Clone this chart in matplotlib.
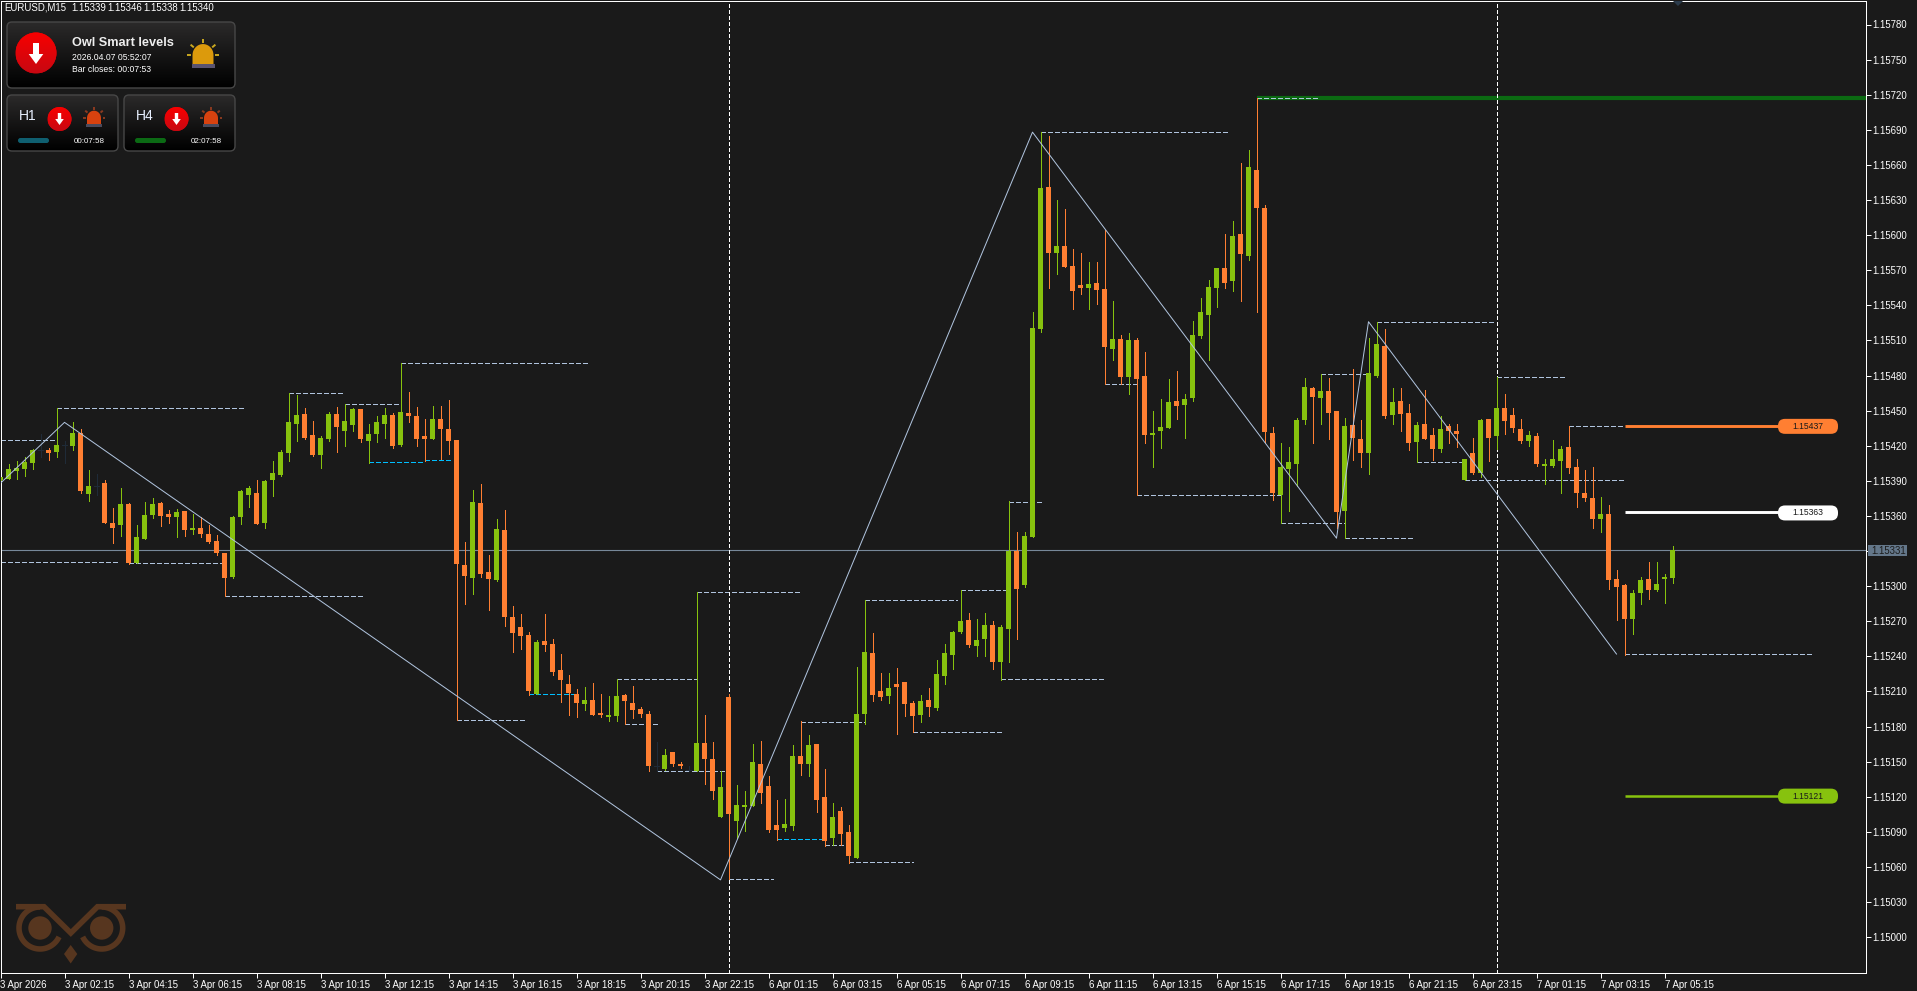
import numpy as np
import matplotlib
matplotlib.use("Agg")
import matplotlib.pyplot as plt
from matplotlib.patches import FancyBboxPatch, Circle, Polygon, Rectangle

plt.rcParams['font.family'] = ['Liberation Sans', 'DejaVu Sans']

# prices are in points above 1.15000
opens = [391,392,398,400,405,416,416,415,421,420,
         431,379,386,388,354,352,370,320,340,361,
         371,362,359,364,348,350,345,339,328,308,
         359,378,380,354,391,395,414,439,447,429,
         412,426,447,433,438,451,424,430,439,446,
         421,448,445,428,426,443,434,425,318,307,
         371,312,305,348,274,265,258,208,253,251,
         228,216,208,199,203,192,188,189,207,200,
         195,191,146,144,158,148,143,142,166,152,
         103,205,99,111,112,148,129,96,93,95,
         155,148,165,120,85,108,90,68,191,243,
         210,206,216,218,200,190,203,196,223,241,
         261,271,249,255,267,235,263,330,301,342,
         520,641,585,591,574,557,555,559,554,503,
         511,479,510,480,429,433,435,458,455,461,
         514,532,555,572,561,601,582,656,623,431,
         378,400,404,442,469,461,467,450,364,438,
         426,414,480,505,446,458,448,423,439,429,
         417,437,433,391,414,397,443,428,452,446,
         434,424,428,403,403,407,419,402,380,375,
         357,362,306,301,272,294,306,297,306,307]
highs = [393,404,407,410,417,430,418,452,424,440,
         434,399,396,391,367,384,371,352,372,375,
         372,365,366,364,362,359,352,344,328,360,
         382,386,391,391,407,416,465,463,452,441,
         428,449,453,456,452,451,439,445,452,448,
         491,466,453,443,454,454,459,425,338,382,
         387,327,357,365,283,276,261,254,276,255,
         242,224,212,214,217,208,206,221,208,215,
         197,193,167,161,158,150,146,295,190,167,
         142,208,130,125,165,168,138,117,118,164,
         185,173,165,144,115,111,96,231,288,260,
         226,226,230,218,202,207,213,237,251,262,
         297,277,272,277,270,267,373,346,346,534,
         688,685,630,622,588,585,577,577,604,544,
         515,516,512,500,450,460,477,484,464,527,
         546,562,572,601,612,662,673,717,626,436,
         422,419,444,478,470,481,478,450,444,486,
         442,512,526,520,469,469,456,440,468,435,
         445,439,439,409,427,443,443,479,464,452,
         443,433,431,409,425,420,437,409,399,402,
         376,369,314,302,297,308,321,321,310,334]
lows = [391,392,392,394,400,410,408,410,405,416,
        380,373,378,354,337,343,319,320,340,358,
        351,354,342,343,345,342,337,327,292,307,
        353,368,353,350,377,394,407,424,426,411,
        401,424,415,420,433,423,405,423,427,418,
        420,440,420,407,426,409,413,186,285,293,
        308,280,304,266,244,246,207,208,245,224,
        201,190,188,194,190,188,185,185,182,187,
        188,142,142,143,146,145,142,142,131,118,
        103,50,85,91,112,115,90,83,91,92,
        139,138,107,78,79,79,63,68,182,202,
        203,200,174,189,175,184,189,194,216,229,
        260,248,240,240,229,220,235,255,299,342,
        517,555,567,573,537,550,537,541,473,493,
        473,464,378,422,402,418,435,443,427,458,
        512,493,539,555,552,544,579,534,423,374,
        354,364,386,439,422,439,426,350,341,408,
        402,396,479,444,439,433,416,406,426,408,
        415,422,419,391,396,393,407,417,430,432,
        422,420,403,387,402,380,397,368,373,350,
        346,298,271,241,259,285,289,296,286,303]
closes = [393,400,401,406,416,416,414,421,421,431,
          381,386,386,354,350,370,320,342,361,370,
          360,359,363,348,350,345,338,328,307,359,
          381,384,353,390,397,415,440,446,427,412,
          427,447,436,441,451,426,430,440,446,420,
          449,445,426,426,443,434,424,319,309,372,
          310,306,349,274,260,257,210,252,250,227,
          220,209,200,203,190,190,190,206,202,194,
          191,146,146,156,148,146,143,166,152,125,
          128,105,113,113,150,123,92,92,97,155,
          148,164,117,82,103,88,69,191,244,207,
          205,213,214,199,189,202,197,225,243,261,
          270,250,254,267,235,265,330,298,343,521,
          640,585,591,573,552,555,558,553,504,511,
          479,510,477,429,431,436,457,454,460,515,
          534,556,572,559,599,584,658,623,432,380,
          402,406,442,470,462,467,448,363,437,427,
          414,482,507,445,457,447,422,438,426,417,
          434,433,430,409,397,442,427,452,441,435,
          424,429,404,404,409,417,401,380,375,357,
          362,305,299,272,294,305,297,302,308,331]

# swing levels: (first bar, last bar, price in points)
swing_levels = [(0,7,425),(7,30.6,452),(0,14.8,321),(16,27.7,320),(28,45.6,292),
                (36,43,465),(43,50,456),(50,73.5,491),(57,65.7,186),(77,87,221),
                (87,100,295),(78,82,182),(82,90.7,142),(91,96.6,50),(103,105.5,79),
                (106,114,64),(100,108,184),(108,119.6,288),(114,125,175),(125,137.9,221),
                (120,125.6,297),(126,130,372),(130,153.6,688),(157,164.9,717),(138,142,473),
                (142,160,378),(160,168,354),(165,170.8,481),(168,176.7,341),(172,186.7,526),
                (177,182.7,406),(183,202.9,391),(187,195.6,479),(196,203,437),(203,226.6,242)]
cyan_levels = [(46,53,406.5),(53,56.5,408),(66,72,208),(97,102.7,84)]

zigzag_bars = [0,8,90,129,167,171,202]
zigzag_pts = [388,440,49,688,341,526,242]

period_bars = [91,187]
bid_pts = 330.6
resistance_pts = 717
smart_levels = [(437,"1.15437","#ff7f32","#1a1a1a"),
                (363,"1.15363","#ffffff","#1a1a1a"),
                (121,"1.15121","#87c20e","#1a1a1a")]

time_labels = ["3 Apr 2026","3 Apr 02:15","3 Apr 04:15","3 Apr 06:15","3 Apr 08:15","3 Apr 10:15",
               "3 Apr 12:15","3 Apr 14:15","3 Apr 16:15","3 Apr 18:15","3 Apr 20:15","3 Apr 22:15",
               "6 Apr 01:15","6 Apr 03:15","6 Apr 05:15","6 Apr 07:15","6 Apr 09:15","6 Apr 11:15",
               "6 Apr 13:15","6 Apr 15:15","6 Apr 17:15","6 Apr 19:15","6 Apr 21:15","6 Apr 23:15",
               "7 Apr 01:15","7 Apr 03:15","7 Apr 05:15"]
price_ticks = list(range(0,781,30))
header_parts = ["EURUSD,M15","1.15339","1.15346","1.15338","1.15340"]
header_x = [4,71.7,107.5,143.5,179.5]

BG = "#1a1a1a"
UP = "#87c20e"
DOWN = "#ff7f32"
DOJI = "#1f2b38"
LEVEL = "#b0c4de"
CYAN = "#00bfff"
W, H = 1917, 991
PX = 0.72  # one pixel in points at dpi 100
LABEL_SIZE = 6.9


def prc(p):
    return 1.15 + np.asarray(p, dtype=float)/1e5


fig = plt.figure(figsize=(W/100, H/100), dpi=100, facecolor=BG)
ax = fig.add_axes([0.5/W, 1-972.5/H, 1865/W, 972/H], facecolor=BG)
ax.set_xlim(0, 1865/8)
ax.set_ylim(prc(780-(972.5-24.5)*0.8546), prc(780+24*0.8546))

o, h, l, c = map(np.array, (opens, highs, lows, closes))
bars = np.arange(len(o))

# levels first, candles over them
for lv, col in ((swing_levels, LEVEL), (cyan_levels, CYAN)):
    for a, b, p in lv:
        ax.plot([a, b], prc([p, p]), color=col, lw=PX, ls=(0, (5, 2.5)), antialiased=False, zorder=2)

ax.axhline(prc(bid_pts), color="#778899", lw=PX*1.1, zorder=2)
for k in period_bars:
    ax.axvline(k, color="white", lw=PX, ls=(0, (3.5, 2.5)), antialiased=False, zorder=2)
ax.plot([157, 234], prc([resistance_pts, resistance_pts]), color="#0b6a12", lw=3, solid_capstyle="butt", zorder=1.5)

for mask, col in ((c > o, UP), (c < o, DOWN), (c == o, DOJI)):
    ax.vlines(bars[mask], prc(l[mask]), prc(h[mask]), color=col, lw=PX, antialiased=False, zorder=3)
    ax.bar(bars[mask], prc(np.maximum(o, c)[mask])-prc(np.minimum(o, c)[mask]), 5/8,
           bottom=prc(np.minimum(o, c)[mask]), color=col, lw=0, antialiased=False, zorder=3)
doji = c == o
ax.hlines(prc(c[doji]), bars[doji]-2.5/8, bars[doji]+2.5/8, color=DOJI, lw=PX, antialiased=False, zorder=3)

ax.plot(zigzag_bars, prc(zigzag_pts), color=LEVEL, lw=PX, antialiased=True, zorder=4)

for p, txt, col, tc in smart_levels:
    ax.plot([203, 222.5], prc([p, p]), color=col, lw=2.1 if col != UP else 1.8, solid_capstyle="butt", zorder=4)

for s in ax.spines.values():
    s.set_color("white")
    s.set_linewidth(PX)
ax.yaxis.tick_right()
ax.set_yticks(prc(price_ticks))
ax.set_yticklabels(["%.5f" % prc(p) for p in price_ticks])
ax.set_xticks(np.arange(len(time_labels))*8)
ax.set_xticklabels(time_labels, ha="left")
ax.tick_params(axis="y", colors="white", length=3.6, width=PX, pad=1.5, labelsize=LABEL_SIZE)
ax.tick_params(axis="x", colors="white", length=3.6, width=PX, pad=1.8, labelsize=LABEL_SIZE)

# overlay in screen pixels for the panels and tags
deco = fig.add_axes([0, 0, 1, 1], facecolor="none", zorder=10)
deco.axis("off")


def py(p):
    return H - ax.transData.transform((0, prc(p)))[1]


def gradient(patch, x0, x1, y0, y1, top, bottom):
    deco.add_patch(patch)
    ca = np.array(matplotlib.colors.to_rgb(top))
    cb = np.array(matplotlib.colors.to_rgb(bottom))
    t = np.linspace(0, 1, 64)[:, None, None]
    img = ca[None, None, :]*(1-t) + cb[None, None, :]*t
    im = deco.imshow(img, extent=(x0, x1, y1, y0), aspect="auto", zorder=patch.get_zorder()+0.1, interpolation="bilinear")
    im.set_clip_path(patch)


def panel(x0, y0, x1, y1):
    p = FancyBboxPatch((x0, y0), x1-x0, y1-y0, boxstyle="round,pad=0,rounding_size=5",
                       fc="#111111", ec="none", zorder=2)
    gradient(p, x0, x1, y0, y1, "#2b2a2a", "#000000")
    deco.add_patch(FancyBboxPatch((x0, y0), x1-x0, y1-y0, boxstyle="round,pad=0,rounding_size=5",
                                  fc="none", ec="#474747", lw=1.0, zorder=3))


def arrow_disc(cx, cy, r, shaft, head, top, split, tip):
    p = Circle((cx, cy), r, fc="#e00000", ec="none", zorder=4)
    gradient(p, cx-r, cx+r, cy-r, cy+r, "#f80000", "#c80812")
    deco.add_patch(Polygon([(cx-shaft, top), (cx+shaft, top), (cx+shaft, split), (cx+head, split),
                            (cx, tip), (cx-head, split), (cx-shaft, split)], fc="white", ec="none", zorder=5))


def siren(cx, bottom, half, dome, base, ray, rays_r, base_h):
    cy = bottom-half*0.85
    deco.add_patch(Polygon([(cx-half, bottom)] +
                           [(cx+half*np.cos(t), cy-half*1.05*np.sin(t)) for t in np.linspace(np.pi, 0, 20)] +
                           [(cx+half, bottom)], fc=dome, ec="none", zorder=5))
    deco.add_patch(Rectangle((cx-half-1, bottom), 2*half+2, base_h, fc=base, ec="none", zorder=5))
    for a in (0, 40, 90, 140, 180):
        t = np.deg2rad(a)
        r0, r1 = rays_r, rays_r*1.35
        deco.plot([cx+r0*np.cos(t), cx+r1*np.cos(t)], [cy-r0*np.sin(t), cy-r1*np.sin(t)],
                  color=ray, lw=1.4, solid_capstyle="butt", zorder=5)


for txt, x in zip(header_parts, header_x):
    deco.text(x, 11, txt, color="white", fontsize=LABEL_SIZE, va="baseline")

panel(7, 22, 235, 88)
arrow_disc(36, 53, 20.5, 3, 7.3, 43, 54, 64)
siren(203, 64, 10.5, "#dc9a0c", "#5a5470", "#c9a820", 12, 4)
deco.text(72, 43.5, "Owl Smart levels", color="#eeeeee", fontsize=9.2, fontweight="bold", va="center")
deco.text(72, 57, "2026.04.07 05:52:07", color="white", fontsize=6.2, va="center")
deco.text(72, 70, "Bar closes: 00:07:53", color="white", fontsize=6.2, va="center")

for x0, name, bar_col, clock in ((7, "H1", "#0f5f70", "00:07:58"), (124, "H4", "#0b6a14", "02:07:58")):
    panel(x0, 95, x0+111, 151)
    deco.text(x0+12, 116.5, name, color="#e8f0ff", fontsize=10, va="center")
    arrow_disc(x0+52.5, 119, 12, 1.7, 4.3, 113, 119, 125)
    siren(x0+87, 124, 7, "#d8420f", "#4a4a5c", "#8b3a20", 8.5, 3)
    deco.add_patch(FancyBboxPatch((x0+11, 138), 31, 5, boxstyle="round,pad=0,rounding_size=2.4",
                                  fc=bar_col, ec="none", zorder=4))
    deco.text(x0+67, 141.5, clock, color="white", fontsize=5.8, va="center")

# price pills
for p, txt, col, tc in smart_levels:
    y = py(p)
    deco.add_patch(FancyBboxPatch((1778, y-7), 60, 15, boxstyle="round,pad=0,rounding_size=7",
                                  fc=col, ec="none", zorder=4))
    deco.text(1808, y+0.5, txt, color=tc, fontsize=6.2, ha="center", va="center", zorder=5)

# bid tag on the price scale
y = py(bid_pts)
deco.add_patch(Rectangle((1868, y-5), 39, 11, fc="#64778a", ec="none", zorder=4))
deco.text(1871, y+0.5, "%.5f" % prc(331), color="#1a1a1a", fontsize=LABEL_SIZE, va="center", zorder=5)

# shift marker at the top
deco.add_patch(Polygon([(1673, 1), (1683, 1), (1678, 6)], fc="#2a3a4a", ec="none", zorder=4))

# owl logo
OWL = "#57361f"
t = np.deg2rad(np.linspace(-90, -335, 60))
deco.plot(40+21*np.cos(t), 928+21*np.sin(t), color=OWL, lw=4, solid_capstyle="butt", zorder=2)
deco.plot(101.7-21*np.cos(t), 928+21*np.sin(t), color=OWL, lw=4, solid_capstyle="butt", zorder=2)
deco.plot([16, 44, 70.8, 97.5, 126], [906.7, 906.7, 933, 906.7, 906.7], color=OWL, lw=4,
          solid_capstyle="butt", solid_joinstyle="miter", zorder=2)
deco.add_patch(Circle((40, 928), 11.7, fc=OWL, ec="none", zorder=2))
deco.add_patch(Circle((101.7, 928), 11.7, fc=OWL, ec="none", zorder=2))
deco.add_patch(Polygon([(70.7, 945), (77.3, 954), (70.7, 963.5), (64, 954)], fc=OWL, ec="none", zorder=2))

deco.set_xlim(0, W)
deco.set_ylim(H, 0)

fig.savefig("out.png", dpi=100, facecolor=BG)
